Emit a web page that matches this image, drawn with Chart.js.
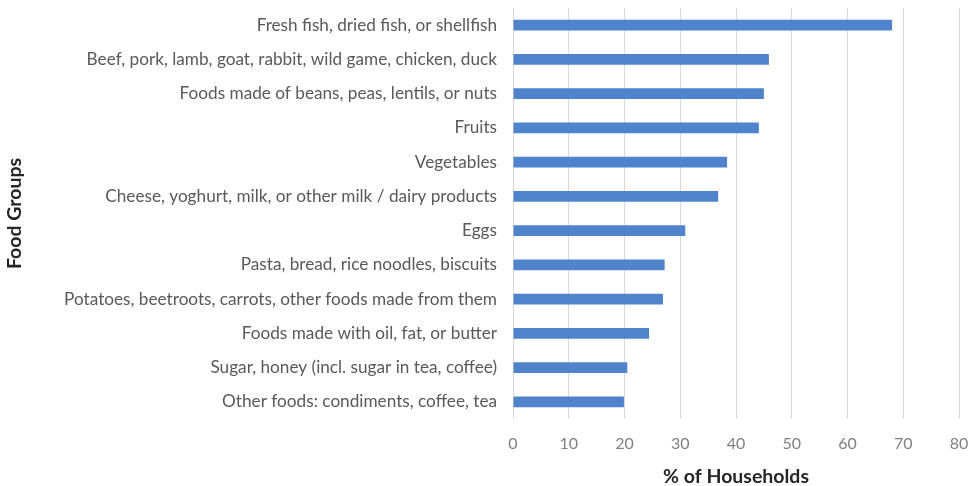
<!DOCTYPE html>
<html>
<head>
<meta charset="utf-8">
<script src="https://cdn.jsdelivr.net/npm/chart.js@4"></script>
<style>
  html, body { margin: 0; padding: 0; background: #ffffff; }
  #wrap { width: 973px; height: 486px; }
</style>
</head>
<body>
<div id="wrap"><canvas id="c" width="973" height="486"></canvas></div>
<script>
// Food groups consumed, share of households (%)
const categories = [
  "Fresh fish, dried fish, or shellfish",
  "Beef, pork, lamb, goat, rabbit, wild game, chicken, duck",
  "Foods made of beans, peas, lentils, or nuts",
  "Fruits",
  "Vegetables",
  "Cheese, yoghurt, milk, or other milk / dairy products",
  "Eggs",
  "Pasta, bread, rice noodles, biscuits",
  "Potatoes, beetroots, carrots, other foods made from them",
  "Foods made with oil, fat, or butter",
  "Sugar, honey (incl. sugar in tea, coffee)",
  "Other foods: condiments, coffee, tea"
];
const households = [68.0, 45.9, 45.0, 44.1, 38.4, 36.8, 30.9, 27.2, 26.9, 24.4, 20.5, 19.9];
const xTicks = [0, 10, 20, 30, 40, 50, 60, 70, 80];

const FONT = "Lato, 'Open Sans', sans-serif";

new Chart(document.getElementById('c'), {
  type: 'bar',
  data: {
    labels: categories,
    datasets: [{
      label: '% of Households',
      data: households,
      backgroundColor: '#4F83CC',
      borderWidth: 0,
      barPercentage: 0.32,
      categoryPercentage: 1.0
    }]
  },
  options: {
    indexAxis: 'y',
    responsive: false,
    animation: false,
    layout: { padding: { top: 8, right: 14, bottom: 0, left: 0 } },
    plugins: {
      legend: { display: false },
      tooltip: { enabled: false }
    },
    scales: {
      x: {
        min: xTicks[0],
        max: xTicks[xTicks.length - 1],
        afterBuildTicks: (scale) => { scale.ticks = xTicks.map(v => ({ value: v })); },
        grid: { color: '#D9D9D9', lineWidth: 1, drawTicks: false },
        border: { display: false },
        ticks: {
          color: '#7F7F7F',
          font: { family: FONT, size: 16 },
          padding: 15
        },
        title: {
          display: true,
          text: '% of Households',
          color: '#262626',
          font: { family: FONT, size: 19.5, weight: 'bold', lineHeight: 1 },
          padding: { top: 0, bottom: 0 }
        },
        afterFit: (scale) => {
          scale.height = 67;
          scale.paddingLeft = 0;
          scale.paddingRight = 0;
        }
      },
      y: {
        grid: { display: false, drawTicks: false },
        border: { display: false },
        ticks: {
          color: '#595959',
          font: { family: FONT, size: 17.2 },
          padding: 16,
          autoSkip: false
        },
        title: {
          display: true,
          text: 'Food Groups',
          color: '#262626',
          font: { family: FONT, size: 19.5, weight: 'bold', lineHeight: 1 },
          padding: { top: 5, bottom: 0 }
        },
        afterFit: (scale) => {
          scale.width = 513;
          scale.paddingTop = 0;
          scale.paddingBottom = 0;
        }
      }
    }
  }
});
</script>
</body>
</html>
